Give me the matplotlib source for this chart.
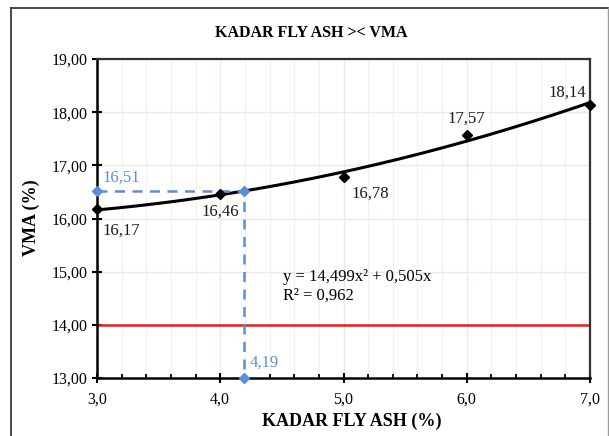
import matplotlib.pyplot as plt
from matplotlib.ticker import MultipleLocator, FuncFormatter
from matplotlib.lines import Line2D
import numpy as np

# fly ash content (%) vs VMA (%)
fly_ash = [3.0, 4.0, 5.0, 6.0, 7.0]
vma = [16.17, 16.46, 16.78, 17.57, 18.14]
vma_labels = ["16,17", "16,46", "16,78", "17,57", "18,14"]
label_offsets = [(4, -15, 'left'), (0, -13, 'center'), (6, -12, 'left'),
                 (0, 12, 'center'), (-3, 9, 'right')]

# reading at the spec limit
opt_x = 4.19
opt_y = 16.51
vma_min = 14.00

plt.rcParams['font.family'] = ['Liberation Serif', 'DejaVu Serif']

W, H = 609, 436
fig = plt.figure(figsize=(W / 100, H / 100), dpi=100)
ax = fig.add_axes([97 / W, 1 - 378 / H, 493 / W, 319 / H])

# outer frame
def fig_line(xs, ys, color, lw):
    fig.lines.append(Line2D([x / W for x in xs], [1 - y / H for y in ys],
                            transform=fig.transFigure, color=color, linewidth=lw))

fig_line([11, 11], [8, 436], '#3a3a3a', 1.3)
fig_line([11, 607.5], [8, 8], '#3a3a3a', 1.3)
fig_line([607.5, 607.5], [8, 436], '#9a9a9a', 1.0)

ax.set_xlim(3, 7)
ax.set_ylim(13, 19)
ax.xaxis.set_major_locator(MultipleLocator(1))
ax.xaxis.set_minor_locator(MultipleLocator(0.2))
ax.yaxis.set_major_locator(MultipleLocator(1))
ax.xaxis.set_major_formatter(FuncFormatter(lambda v, p: f"{v:.1f}".replace('.', ',')))
ax.yaxis.set_major_formatter(FuncFormatter(lambda v, p: f"{v:.2f}".replace('.', ',')))
ax.grid(which='major', color='#EEEADF', linewidth=1.0)
ax.grid(which='minor', axis='x', color='#F3F1EA', linewidth=0.8)
ax.set_axisbelow(True)

ax.tick_params(axis='both', which='major', direction='inout', length=7, width=1.5,
               labelsize=11.5, colors='black')
ax.tick_params(axis='x', which='minor', direction='in', length=3, width=1.3)
ax.tick_params(axis='x', which='major', pad=6)
for side in ['left', 'bottom']:
    ax.spines[side].set_linewidth(1.8)
    ax.spines[side].set_color('black')
for side in ['right', 'top']:
    ax.spines[side].set_linewidth(1.6)
    ax.spines[side].set_color('#333333')

# red minimum line
ax.axhline(vma_min, color='#EE1C1C', linewidth=1.8, zorder=2)

# polynomial trendline
coef = np.polyfit(fly_ash, vma, 2)
xs = np.linspace(3, 7, 200)
ax.plot(xs, np.polyval(coef, xs), color='black', linewidth=2.2, zorder=3)
ax.plot(fly_ash, vma, linestyle='none', marker='D', markersize=5,
        color='black', zorder=4, clip_on=False)
for x, y, t, (dx, dy, ha) in zip(fly_ash, vma, vma_labels, label_offsets):
    ax.annotate(t, (x, y), xytext=(dx, dy), textcoords='offset points',
                ha=ha, va='center', fontsize=12, color='#1a1a1a')

# dashed guide lines
blue = '#5B8ED8'
ax.plot([3, opt_x, opt_x], [opt_y, opt_y, 13], color=blue, linestyle=(0, (4, 3)),
        linewidth=1.8, zorder=3)
ax.plot([3, opt_x, opt_x], [opt_y, opt_y, 13], linestyle='none', marker='D',
        markersize=5, color=blue, zorder=5, clip_on=False)
ax.annotate("16,51", (3, opt_y), xytext=(4, 10), textcoords='offset points',
            ha='left', va='center', fontsize=12, color=blue)
ax.annotate("4,19", (opt_x, 13), xytext=(4, 11), textcoords='offset points',
            ha='left', va='center', fontsize=12, color=blue)

ax.text(4.51, 14.72, "y = 14,499x² + 0,505x\nR² = 0,962", fontsize=12,
        linespacing=1.25, va='center', ha='left')

fig.text(311 / W, 1 - 33 / H, "KADAR FLY ASH >< VMA", fontsize=11.5,
         fontweight='bold', ha='center', va='center')
fig.text(352 / W, 1 - 421 / H, "KADAR FLY ASH (%)", fontsize=13,
         fontweight='bold', ha='center', va='center')
fig.text(31 / W, 1 - 218 / H, "VMA (%)", fontsize=13, fontweight='bold',
         ha='center', va='center', rotation=90)

fig.savefig("out.png", dpi=100)
